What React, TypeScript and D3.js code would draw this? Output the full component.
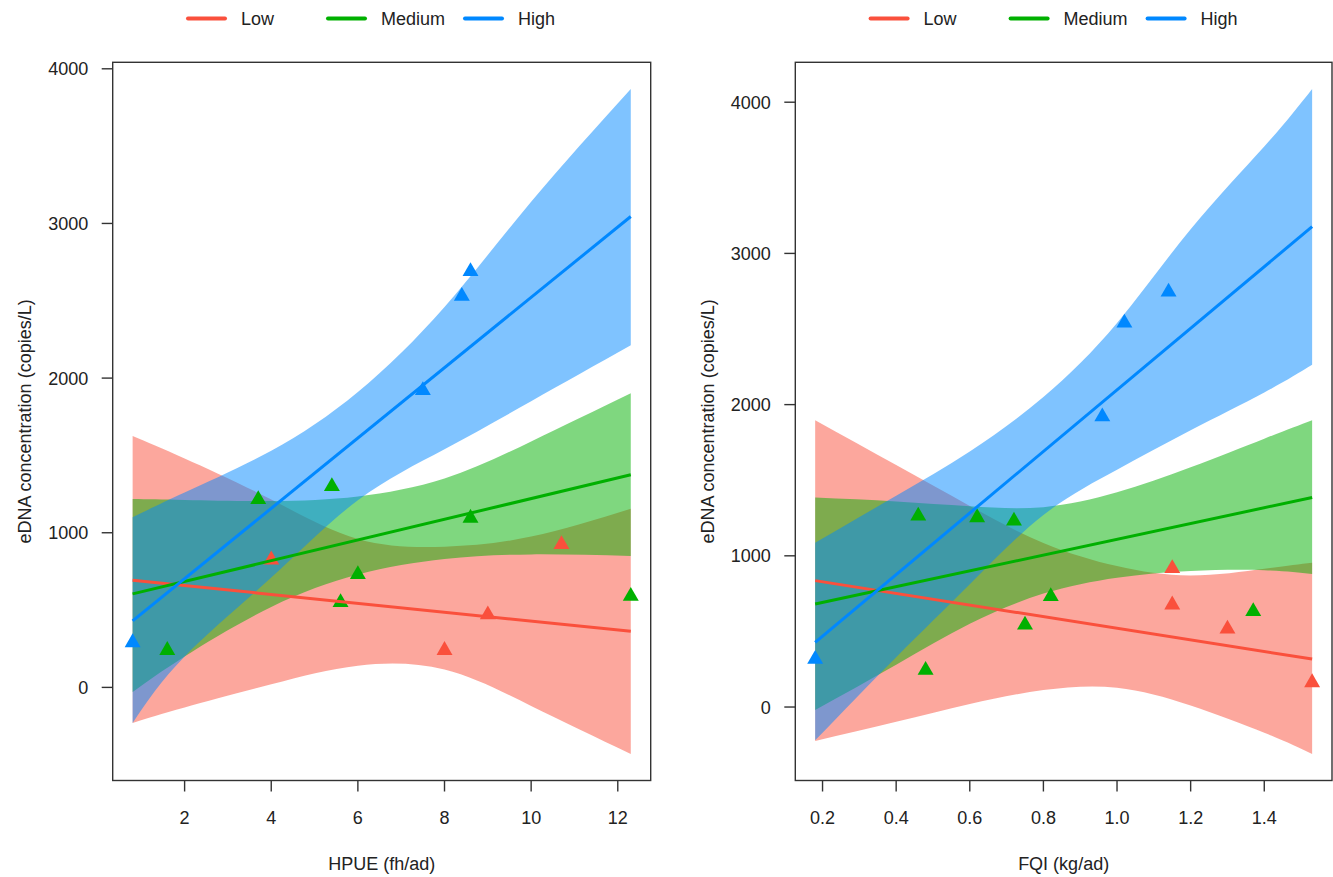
import React from 'react';
import * as d3 from 'd3';

const GROUPS = ['Low', 'Medium', 'High'];
const COLORS = ['#FA503C', '#00B000', '#0088FF'];

// ---------- Panel 1: HPUE ----------
const hpueBandX = [0.8, 2, 4, 6, 8, 10, 12.3];
const hpueLowUpper = [1625, 1480, 1215, 960, 910, 975, 1155];
const hpueLowLower = [-230, -130, 20, 140, 115, -120, -430];
const hpueMedUpper = [1218, 1212, 1205, 1235, 1350, 1590, 1902];
const hpueMedLower = [-30, 200, 520, 730, 830, 860, 850];
const hpueHighUpper = [1100, 1260, 1530, 1910, 2460, 3140, 3870];
const hpueHighLower = [-230, 200, 710, 1210, 1540, 1850, 2212];
const hpueFitX = [0.8, 12.3];
const hpueLowFit = [693, 363];
const hpueMedFit = [605, 1375];
const hpueHighFit = [430, 3045];
const hpueLowPtsX = [4.0, 8.0, 9.0, 10.7];
const hpueLowPtsY = [825, 240, 470, 925];
const hpueMedPtsX = [1.6, 3.7, 5.4, 5.6, 6.0, 8.6, 12.3];
const hpueMedPtsY = [240, 1215, 1300, 550, 730, 1095, 590];
const hpueHighPtsX = [0.8, 7.5, 8.4, 8.6];
const hpueHighPtsY = [290, 1920, 2530, 2690];
const hpueTicksX = [2, 4, 6, 8, 10, 12];

// ---------- Panel 2: FQI ----------
const fqiBandX = [0.18, 0.4, 0.6, 0.8, 1.0, 1.2, 1.4, 1.53];
const fqiLowUpper = [1897, 1600, 1330, 1085, 932, 870, 915, 955];
const fqiLowLower = [-225, -98, 20, 112, 128, 10, -170, -310];
const fqiMedUpper = [1386, 1360, 1328, 1322, 1420, 1586, 1775, 1897];
const fqiMedLower = [-20, 280, 550, 750, 855, 900, 905, 880];
const fqiHighUpper = [1087, 1397, 1690, 2050, 2540, 3160, 3707, 4088];
const fqiHighLower = [-220, 330, 812, 1270, 1570, 1830, 2080, 2263];
const fqiFitX = [0.18, 1.53];
const fqiLowFit = [836, 317];
const fqiMedFit = [681, 1386];
const fqiHighFit = [428, 3177];
const fqiLowPtsX = [1.15, 1.15, 1.3, 1.53];
const fqiLowPtsY = [916, 676, 517, 162];
const fqiMedPtsX = [0.46, 0.48, 0.62, 0.72, 0.75, 0.82, 1.37];
const fqiMedPtsY = [1264, 244, 1253, 1231, 543, 732, 632];
const fqiHighPtsX = [0.18, 0.96, 1.02, 1.14];
const fqiHighPtsY = [317, 1920, 2540, 2745];
const fqiTicksX = [0.2, 0.4, 0.6, 0.8, 1.0, 1.2, 1.4];

const yTicks = [0, 1000, 2000, 3000, 4000];

type Series = { bandX: number[]; upper: number[]; lower: number[]; fitX: number[]; fit: number[]; px: number[]; py: number[] };
type PanelDef = { series: Series[]; xTicks: number[]; xFmt: (v: number) => string; xTitle: string; x0: number; x1: number };

const panels: PanelDef[] = [
  {
    series: [
      { bandX: hpueBandX, upper: hpueLowUpper, lower: hpueLowLower, fitX: hpueFitX, fit: hpueLowFit, px: hpueLowPtsX, py: hpueLowPtsY },
      { bandX: hpueBandX, upper: hpueMedUpper, lower: hpueMedLower, fitX: hpueFitX, fit: hpueMedFit, px: hpueMedPtsX, py: hpueMedPtsY },
      { bandX: hpueBandX, upper: hpueHighUpper, lower: hpueHighLower, fitX: hpueFitX, fit: hpueHighFit, px: hpueHighPtsX, py: hpueHighPtsY },
    ],
    xTicks: hpueTicksX,
    xFmt: (v) => String(v),
    xTitle: 'HPUE (fh/ad)',
    x0: 112.7,
    x1: 650.7,
  },
  {
    series: [
      { bandX: fqiBandX, upper: fqiLowUpper, lower: fqiLowLower, fitX: fqiFitX, fit: fqiLowFit, px: fqiLowPtsX, py: fqiLowPtsY },
      { bandX: fqiBandX, upper: fqiMedUpper, lower: fqiMedLower, fitX: fqiFitX, fit: fqiMedFit, px: fqiMedPtsX, py: fqiMedPtsY },
      { bandX: fqiBandX, upper: fqiHighUpper, lower: fqiHighLower, fitX: fqiFitX, fit: fqiHighFit, px: fqiHighPtsX, py: fqiHighPtsY },
    ],
    xTicks: fqiTicksX,
    xFmt: (v) => v.toFixed(1),
    xTitle: 'FQI (kg/ad)',
    x0: 795.3,
    x1: 1332,
  },
];

const TOP = 62.3;
const BOTTOM = 780.5;
const FONT = "'Liberation Sans', Arial, sans-serif";

function expand(ext: [number, number]): [number, number] {
  const r = ext[1] - ext[0];
  return [ext[0] - 0.04 * r, ext[1] + 0.04 * r];
}

function Panel({ p }: { p: PanelDef }) {
  const allX = p.series.flatMap((s) => [...s.bandX, ...s.px]);
  const allY = p.series.flatMap((s) => [...s.upper, ...s.lower, ...s.py]);
  const xs = d3.scaleLinear().domain(expand(d3.extent(allX) as [number, number])).range([p.x0, p.x1]);
  const ys = d3.scaleLinear().domain(expand(d3.extent(allY) as [number, number])).range([BOTTOM, TOP]);

  const area = (s: Series) =>
    d3
      .area<number>()
      .x((i) => xs(s.bandX[i]))
      .y0((i) => ys(s.lower[i]))
      .y1((i) => ys(s.upper[i]))
      .curve(d3.curveNatural)(d3.range(s.bandX.length)) || '';
  const line = (s: Series) =>
    d3
      .line<number>()
      .x((i) => xs(s.fitX[i]))
      .y((i) => ys(s.fit[i]))(d3.range(s.fitX.length)) || '';
  const tri = d3.symbol().type(d3.symbolTriangle).size(110)() || '';
  const cx = (p.x0 + p.x1) / 2;
  const cy = (TOP + BOTTOM) / 2;
  const legX = p.x0 + 75.3;
  const legOff = [0, 140, 277];

  return (
    <g>
      {/* legend */}
      {GROUPS.map((g, i) => (
        <g key={g}>
          <line x1={legX + legOff[i]} x2={legX + legOff[i] + 37} y1={18.5} y2={18.5} stroke={COLORS[i]} strokeWidth={4} strokeLinecap="round" />
          <text x={legX + legOff[i] + 53} y={25} fontSize={18} fontFamily={FONT} fill="#222">
            {g}
          </text>
        </g>
      ))}
      {/* bands */}
      {p.series.map((s, i) => (
        <path key={'b' + i} d={area(s)} fill={COLORS[i]} fillOpacity={0.5} stroke="none" />
      ))}
      {/* points */}
      {p.series.map((s, i) =>
        s.px.map((xv, j) => (
          <path key={'p' + i + '-' + j} d={tri} transform={`translate(${xs(xv)},${ys(s.py[j])})`} fill={COLORS[i]} />
        ))
      )}
      {/* fitted lines */}
      {p.series.map((s, i) => (
        <path key={'l' + i} d={line(s)} fill="none" stroke={COLORS[i]} strokeWidth={3} />
      ))}
      {/* frame */}
      <rect x={p.x0} y={TOP} width={p.x1 - p.x0} height={BOTTOM - TOP} fill="none" stroke="#333" strokeWidth={1.4} />
      {/* y axis */}
      {yTicks.map((t) => (
        <g key={'y' + t}>
          <line x1={p.x0 - 11} x2={p.x0} y1={ys(t)} y2={ys(t)} stroke="#333" strokeWidth={1.4} />
          <text x={p.x0 - 24.5} y={ys(t)} dy="0.36em" textAnchor="end" fontSize={18} fontFamily={FONT} fill="#222">
            {t}
          </text>
        </g>
      ))}
      {/* x axis */}
      {p.xTicks.map((t) => (
        <g key={'x' + t}>
          <line x1={xs(t)} x2={xs(t)} y1={BOTTOM} y2={BOTTOM + 11} stroke="#333" strokeWidth={1.4} />
          <text x={xs(t)} y={823.5} textAnchor="middle" fontSize={18} fontFamily={FONT} fill="#222">
            {p.xFmt(t)}
          </text>
        </g>
      ))}
      <text x={cx} y={870} textAnchor="middle" fontSize={18} fontFamily={FONT} fill="#222">
        {p.xTitle}
      </text>
      <text
        transform={`translate(${p.x0 - 88},${cy}) rotate(-90)`}
        textAnchor="middle"
        dy="0.36em"
        fontSize={18}
        fontFamily={FONT}
        fill="#222"
      >
        eDNA concentration (copies/L)
      </text>
    </g>
  );
}

export default function App() {
  return (
    <svg width={1333} height={877} style={{ position: 'absolute', left: 0, top: 0, background: '#fff' }}>
      <rect width={1333} height={877} fill="#fff" />
      {panels.map((p, i) => (
        <Panel key={i} p={p} />
      ))}
    </svg>
  );
}
